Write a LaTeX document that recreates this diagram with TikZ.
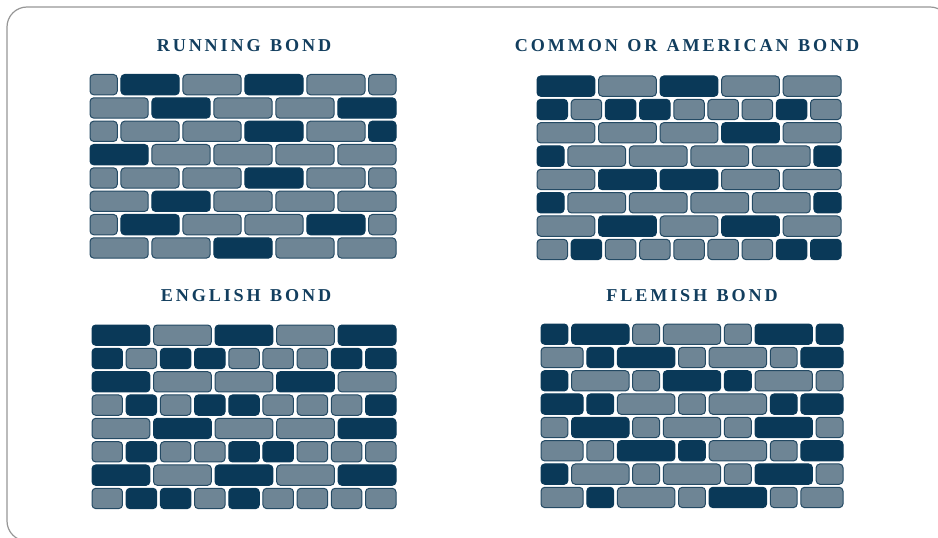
\documentclass[tikz,border=0pt]{standalone}
\usepackage{fontspec}
\newfontfamily\titlefont[LetterSpace=16,WordSpace=1.25]{Liberation Serif}
\usetikzlibrary{positioning}
\definecolor{darkbrick}{RGB}{10, 57, 88}
\definecolor{lightbrick}{RGB}{110, 133, 149}
\definecolor{lightedge}{RGB}{36, 74, 100}
\definecolor{titlecolor}{RGB}{18, 62, 94}
\definecolor{framecolor}{RGB}{150, 150, 150}
\newcommand{\brickgap}{3.7}
\newcommand{\brickh}{20.3}
\newcommand{\coursepitch}{23.33}
\tikzset{
brick/.style={
  rounded corners=2.8,
  line width=0.75pt
},
brickD/.style={
  brick,
  fill=darkbrick,
  draw=darkbrick
},
brickL/.style={
  brick,
  fill=lightbrick,
  draw=lightedge
},
bondtitle/.style={
  font=\titlefont\bfseries\fontsize{13.6}{15}\selectfont,
  text=titlecolor,
  align=center
},
panelframe/.style={
  draw=framecolor,
  line width=0.9pt,
  rounded corners=15
}
}
% one wall: x, y, width, courses (length/colour, top course first)
\newcommand{\brickwall}[4]{%
  \pgfmathsetmacro\brickunit{(#3+\brickgap)/5}
  \foreach \course [count=\i from 0] in {#4}{
    \xdef\brickstart{0}
    \foreach \w/\c in \course{
      \draw[brick\c] ({#1+\brickstart*\brickunit},{#2+\i*\coursepitch})
        rectangle ++({\w*\brickunit-\brickgap},\brickh);
      \pgfmathsetmacro\brickend{\brickstart+\w}
      \xdef\brickstart{\brickend}
    }
  }}

\begin{document}
\begin{tikzpicture}[x=0.75pt, y=-0.75pt]
  \useasboundingbox (0,0) rectangle (938,538);
  % Frame
  \draw[panelframe] (7,7) rectangle (950,541);
  % Titles
  \node[bondtitle] (runningtitle) at (244,46) {RUNNING BOND};
  \node[bondtitle] (commontitle) at (687,46) {COMMON OR AMERICAN BOND};
  \node[bondtitle] (englishtitle) at (246,296) {ENGLISH BOND};
  \node[bondtitle] (flemishtitle) at (692,296) {FLEMISH BOND};
  % Running bond
  \brickwall{90}{74.5}{306}{
    {0.5/L,1/D,1/L,1/D,1/L,0.5/L},
    {1/L,1/D,1/L,1/L,1/D},
    {0.5/L,1/L,1/L,1/D,1/L,0.5/D},
    {1/D,1/L,1/L,1/L,1/L},
    {0.5/L,1/L,1/L,1/D,1/L,0.5/L},
    {1/L,1/D,1/L,1/L,1/L},
    {0.5/L,1/D,1/L,1/L,1/D,0.5/L},
    {1/L,1/L,1/D,1/L,1/L}}
  % Common or American bond
  \brickwall{537}{76}{304}{
    {1/D,1/L,1/D,1/L,1/L},
    {0.5556/D,0.5556/L,0.5556/D,0.5556/D,0.5556/L,0.5556/L,0.5556/L,0.5556/D,0.5556/L},
    {1/L,1/L,1/L,1/D,1/L},
    {0.5/D,1/L,1/L,1/L,1/L,0.5/D},
    {1/L,1/D,1/D,1/L,1/L},
    {0.5/D,1/L,1/L,1/L,1/L,0.5/D},
    {1/L,1/D,1/L,1/D,1/L},
    {0.5556/L,0.5556/D,0.5556/L,0.5556/L,0.5556/L,0.5556/L,0.5556/L,0.5556/D,0.5556/D}}
  % English bond
  \brickwall{92}{325}{304}{
    {1/D,1/L,1/D,1/L,1/D},
    {0.5556/D,0.5556/L,0.5556/D,0.5556/D,0.5556/L,0.5556/L,0.5556/L,0.5556/D,0.5556/D},
    {1/D,1/L,1/L,1/D,1/L},
    {0.5556/L,0.5556/D,0.5556/L,0.5556/D,0.5556/D,0.5556/L,0.5556/L,0.5556/L,0.5556/D},
    {1/L,1/D,1/L,1/L,1/D},
    {0.5556/L,0.5556/D,0.5556/L,0.5556/L,0.5556/D,0.5556/D,0.5556/L,0.5556/L,0.5556/L},
    {1/D,1/L,1/D,1/L,1/D},
    {0.5556/L,0.5556/D,0.5556/D,0.5556/L,0.5556/D,0.5556/L,0.5556/L,0.5556/L,0.5556/L}}
  % Flemish bond
  \brickwall{541}{324}{302}{
    {0.5/D,1/D,0.5/L,1/L,0.5/L,1/D,0.5/D},
    {0.75/L,0.5/D,1/D,0.5/L,1/L,0.5/L,0.75/D},
    {0.5/D,1/L,0.5/L,1/D,0.5/D,1/L,0.5/L},
    {0.75/D,0.5/D,1/L,0.5/L,1/L,0.5/D,0.75/D},
    {0.5/L,1/D,0.5/L,1/L,0.5/L,1/D,0.5/L},
    {0.75/L,0.5/L,1/D,0.5/D,1/L,0.5/L,0.75/D},
    {0.5/D,1/L,0.5/L,1/L,0.5/L,1/D,0.5/L},
    {0.75/L,0.5/D,1/L,0.5/L,1/D,0.5/L,0.75/L}}
\end{tikzpicture}
\end{document}
